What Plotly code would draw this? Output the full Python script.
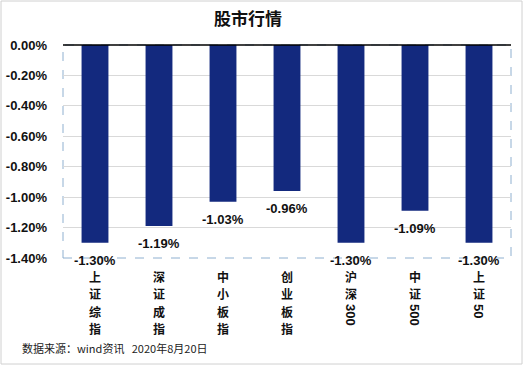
import plotly.graph_objects as go

categories = ["上证综指", "深证成指", "中小板指", "创业板指", "沪深300", "中证500", "上证50"]
values = [-1.30, -1.19, -1.03, -0.96, -1.30, -1.09, -1.30]
# label parts: CJK characters stacked vertically, digits rotated
label_cjk = ["上证综指", "深证成指", "中小板指", "创业板指", "沪深", "中证", "上证"]
label_digits = ["", "", "", "", "300", "500", "50"]
y_ticks = [0, -0.2, -0.4, -0.6, -0.8, -1.0, -1.2, -1.4]

L, R, T, B = 63, 511, 45, 258
W, H = 524, 366
pw, ph = R - L, B - T

def px(x):
    return (x - L) / pw

def py(y):
    return (B - y) / ph

fig = go.Figure()
fig.add_trace(go.Bar(
    x=categories, y=values,
    marker=dict(color="#13297e", line=dict(width=0)),
    width=0.42,
    hoverinfo="skip",
))

annotations = []
# data labels below bar ends
for cat, v in zip(categories, values):
    annotations.append(dict(
        text=f"{v:.2f}%", xref="x", yref="y", x=cat, y=v,
        xanchor="center", yanchor="top", yshift=-8, showarrow=False,
        font=dict(family="Liberation Sans, Arial", size=13, color="#111111", weight="bold")))

annotations.append(dict(
    text="股市行情", xref="paper", yref="paper", x=px(248), y=py(18),
    xanchor="center", yanchor="middle", showarrow=False,
    font=dict(family="Noto Sans CJK SC", size=17, color="#111111", weight="bold")))
annotations.append(dict(
    text="数据来源：wind资讯 &nbsp; 2020年8月20日", xref="paper", yref="paper",
    x=px(20), y=py(348), xanchor="left", yanchor="middle", showarrow=False,
    font=dict(family="Noto Sans CJK SC", size=11, color="#222222")))

char_centers = [276, 293.5, 311, 328.5]
for cat, cjk, dig in zip(categories, label_cjk, label_digits):
    for i, ch in enumerate(cjk):
        annotations.append(dict(
            text=ch, xref="x", yref="paper",
            x=cat, y=py(char_centers[i]), xanchor="center", yanchor="middle",
            showarrow=False,
            font=dict(family="Noto Sans CJK SC", size=12, color="#111111", weight="bold")))
    if dig:
        annotations.append(dict(
            text=dig, xref="x", yref="paper",
            x=cat, y=py(302), xanchor="center", yanchor="top", showarrow=False,
            textangle=90,
            font=dict(family="Liberation Sans, Arial", size=13, color="#111111", weight="bold")))

shapes = [
    dict(type="rect", xref="paper", yref="paper", x0=px(1), x1=px(522), y0=py(364), y1=py(1),
         line=dict(color="#d0d0d0", width=1), layer="below"),
    dict(type="rect", xref="paper", yref="paper", x0=0, x1=1, y0=0, y1=1,
         line=dict(color="#8fb0d0", width=1, dash="dash"), layer="below"),
    dict(type="line", xref="paper", yref="paper", x0=0, x1=1, y0=1, y1=1,
         line=dict(color="#000000", width=1.5), layer="above"),
]

fig.update_layout(
    width=W, height=H,
    margin=dict(l=L, r=W - R, t=T, b=H - B, autoexpand=False),
    paper_bgcolor="white", plot_bgcolor="white",
    showlegend=False,
    annotations=annotations,
    shapes=shapes,
    xaxis=dict(showticklabels=False, showgrid=False, zeroline=False, showline=False,
               fixedrange=True, automargin=False),
    yaxis=dict(range=[-1.4, 0], tickvals=y_ticks, ticktext=[f"{v:.2f}%" for v in y_ticks],
               tickfont=dict(family="Liberation Sans, Arial", size=13, color="#111111",
                             weight="bold"),
               showgrid=True, gridcolor="#d9d9d9", gridwidth=1, automargin=False,
               zeroline=False, showline=False, ticks="", ticklabelstandoff=15,
               fixedrange=True),
)

fig.write_html("out.html", config={"displayModeBar": False},
               post_script="document.body.style.margin='0';document.body.style.overflow='hidden';")
